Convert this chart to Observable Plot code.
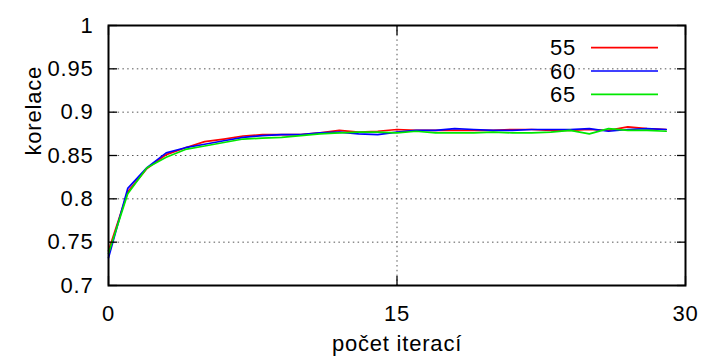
<!DOCTYPE html>
<html><head><meta charset="utf-8">
<script src="https://cdn.jsdelivr.net/npm/d3@7"></script>
<script src="https://cdn.jsdelivr.net/npm/@observablehq/plot@0.6"></script>
<style>body{margin:0;background:#fff}#chart{position:relative;width:704px;height:356px}#chart svg text{letter-spacing:0.8px}</style>
</head><body><div id="chart"></div>
<script>
const iterations = [0,1,2,3,4,5,6,7,8,9,10,11,12,13,14,15,16,17,18,19,20,21,22,23,24,25,26,27,28,29];
const s55 = [0.740,0.808,0.835,0.851,0.859,0.866,0.869,0.8725,0.874,0.874,0.874,0.876,0.879,0.877,0.878,0.880,0.879,0.879,0.879,0.879,0.879,0.880,0.880,0.879,0.879,0.880,0.879,0.883,0.881,0.880];
const s60 = [0.732,0.812,0.836,0.853,0.859,0.863,0.867,0.871,0.873,0.874,0.874,0.876,0.877,0.875,0.874,0.877,0.879,0.879,0.881,0.880,0.879,0.879,0.880,0.880,0.880,0.881,0.878,0.880,0.881,0.880];
const s65 = [0.737,0.806,0.836,0.848,0.857,0.861,0.865,0.869,0.870,0.871,0.873,0.875,0.876,0.877,0.877,0.876,0.878,0.876,0.876,0.876,0.877,0.876,0.876,0.877,0.879,0.875,0.881,0.879,0.879,0.878];
const seriesNames = ["55","60","65"];
const seriesColors = ["#ff0000","#0000ff","#00e800"];
const xTicks = [0,15,30];
const yTicks = [0.7,0.75,0.8,0.85,0.9,0.95,1];
const yTickLabels = ["0.7","0.75","0.8","0.85","0.9","0.95","1"];
const xGrid = [15];
const yGrid = [0.75,0.8,0.85,0.9,0.95];
const xLabel = "počet iterací";
const yLabel = "korelace";

const rows = [];
[s55,s60,s65].forEach((vals,k)=>vals.forEach((v,i)=>rows.push({series:seriesNames[k], x:iterations[i], y:v})));

const font = "'Liberation Sans', Arial, Helvetica, sans-serif";
const chart = Plot.plot({
  width: 704, height: 356,
  marginTop: 25, marginRight: 19, marginBottom: 71, marginLeft: 108,
  style: {fontFamily: font, fontSize: "22px", color: "#000", background: "#fff"},
  x: {domain: [0,30]},
  y: {domain: [0.7,1]},
  color: {domain: seriesNames, range: seriesColors},
  marks: [
    Plot.gridY(yGrid, {stroke:"#555", strokeOpacity:1, strokeDasharray:"1.5,3.3"}),
    Plot.gridX(xGrid, {stroke:"#555", strokeOpacity:1, strokeDasharray:"1.5,3.3"}),
    Plot.line(rows, {x:"x", y:"y", z:"series", stroke:"series", strokeWidth:1.7}),
    Plot.axisY(yTicks, {anchor:"left", tickSize:0, tickPadding:15, tickFormat:d=>yTickLabels[yTicks.indexOf(d)], label:null}),
    Plot.axisY(yTicks, {anchor:"left", tickSize:-9, fill:"none", label:null, strokeWidth:1.3}),
    Plot.axisY(yTicks, {anchor:"right", tickSize:-9, fill:"none", label:null, strokeWidth:1.3}),
    Plot.axisX(xTicks, {anchor:"bottom", tickSize:0, tickPadding:20, label:null}),
    Plot.axisX(xTicks, {anchor:"bottom", tickSize:-9, fill:"none", label:null, strokeWidth:1.3}),
    Plot.axisX(xTicks, {anchor:"top", tickSize:-9, fill:"none", label:null, strokeWidth:1.3}),
    Plot.text([xLabel], {frameAnchor:"bottom", dy:58, lineAnchor:"middle", fontSize:22}),
    Plot.text([yLabel], {frameAnchor:"left", dx:-75, rotate:-90, lineAnchor:"middle", fontSize:22}),
    Plot.frame({stroke:"#000", strokeWidth:2})
  ]
});
document.getElementById("chart").appendChild(chart);

// legend (inside plot, top right, gnuplot style)
const svg = d3.select(chart);
const lg = svg.append("g").attr("font-family", font).attr("font-size", 22);
seriesNames.forEach((name,i)=>{
  const cy = 47.7 + i*23.3;
  lg.append("text").attr("x",576).attr("y",cy).attr("dy","0.35em").attr("text-anchor","end").attr("fill","#000").text(name);
  lg.append("line").attr("x1",591).attr("x2",658).attr("y1",cy).attr("y2",cy).attr("stroke",seriesColors[i]).attr("stroke-width",1.7);
});
</script>
</body></html>
